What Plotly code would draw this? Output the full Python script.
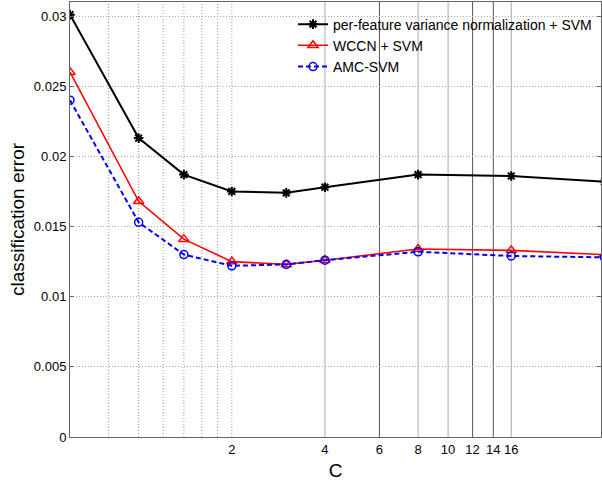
import math
import plotly.graph_objects as go

C = [0.6, 1.0, 1.4, 2, 3, 4, 8, 16, 32]
per_feature = [0.0301, 0.0213, 0.0187, 0.0175, 0.0174, 0.0178, 0.0187, 0.0186, 0.0182]
wccn = [0.0260, 0.0168, 0.0141, 0.0125, 0.0123, 0.0126, 0.0134, 0.0133, 0.0130]
amc = [0.0240, 0.0153, 0.0130, 0.0122, 0.0123, 0.0126, 0.0132, 0.0129, 0.0128]

names = ["per-feature variance normalization + SVM", "WCCN + SVM", "AMC-SVM"]
x_ticks = [2, 4, 6, 8, 10, 12, 14, 16]
x_minor = [0.8, 1.0, 1.2, 1.4, 1.6, 1.8, 2]
y_ticks = [0, 0.005, 0.01, 0.015, 0.02, 0.025, 0.03]
y_ticklabels = ["0", "0.005", "0.01", "0.015", "0.02", "0.025", "0.03"]
major_grid_colors = ["#aaaaaa", "#555555", "#aaaaaa", "#aaaaaa", "#555555", "#555555", "#aaaaaa"]

FONT = "Liberation Sans, Arial, sans-serif"

fig = go.Figure()
fig.add_trace(go.Scatter(
    x=C, y=per_feature, name=names[0], mode="lines+markers",
    line=dict(color="black", width=2),
    marker=dict(symbol="asterisk-open", size=8, color="black", line=dict(color="black", width=2)),
    legendgroup="a",
))
fig.add_trace(go.Scatter(
    x=C, y=wccn, name=names[1], mode="lines+markers",
    line=dict(color="#ff0000", width=1.6),
    marker=dict(symbol="triangle-up-open", size=9, color="#ff0000", line=dict(color="#ff0000", width=1.5)),
    legendgroup="b",
))
fig.add_trace(go.Scatter(
    x=C, y=amc, name=names[2], mode="lines+markers",
    line=dict(color="#0000ff", width=2, dash="5px,3px"),
    marker=dict(symbol="circle-open", size=8, color="#0000ff", line=dict(color="#0000ff", width=1.5)),
    legendgroup="c",
))

shapes = []
for v in x_minor:
    shapes.append(dict(type="line", xref="x", yref="paper", x0=v, x1=v, y0=0, y1=1,
                       line=dict(color="#999999", width=1, dash="1px,2px"), layer="below"))
for v, col in zip(x_ticks[1:], major_grid_colors):
    shapes.append(dict(type="line", xref="x", yref="paper", x0=v, x1=v, y0=0, y1=1,
                       line=dict(color=col, width=1), layer="below"))

fig.update_layout(
    width=602, height=482,
    margin=dict(l=70, r=1, t=2, b=45),
    paper_bgcolor="white", plot_bgcolor="white",
    font=dict(family=FONT, size=13, color="black"),
    shapes=shapes,
    showlegend=True,
    legend=dict(x=0.42, y=0.985, xanchor="left", yanchor="top",
                bgcolor="rgba(0,0,0,0)", borderwidth=0,
                font=dict(family=FONT, size=14, color="black"),
                tracegroupgap=0, itemwidth=30),
)
fig.update_xaxes(
    type="log", range=[math.log10(0.6), math.log10(31.2)],
    tickvals=x_ticks, ticktext=[str(v) for v in x_ticks],
    showgrid=False, zeroline=False, automargin=False,
    showline=True, linecolor="#666666", linewidth=1, mirror=True,
    ticks="", tickfont=dict(size=13),
    title=dict(text="C", font=dict(size=19), standoff=8),
)
fig.update_yaxes(
    range=[0, 0.031],
    tickvals=y_ticks, ticktext=y_ticklabels,
    showgrid=True, gridcolor="#aaaaaa", griddash="1px,2px", gridwidth=1,
    zeroline=False, automargin=False,
    showline=True, linecolor="#666666", linewidth=1, mirror="ticks",
    ticks="inside", ticklen=4, tickcolor="#666666",
    tickfont=dict(size=13),
    title=dict(text="classification error", font=dict(size=19), standoff=4),
)
fig.write_html("out.html", config={"displayModeBar": False},
               post_script="document.body.style.margin='0';document.body.style.overflow='hidden';")
